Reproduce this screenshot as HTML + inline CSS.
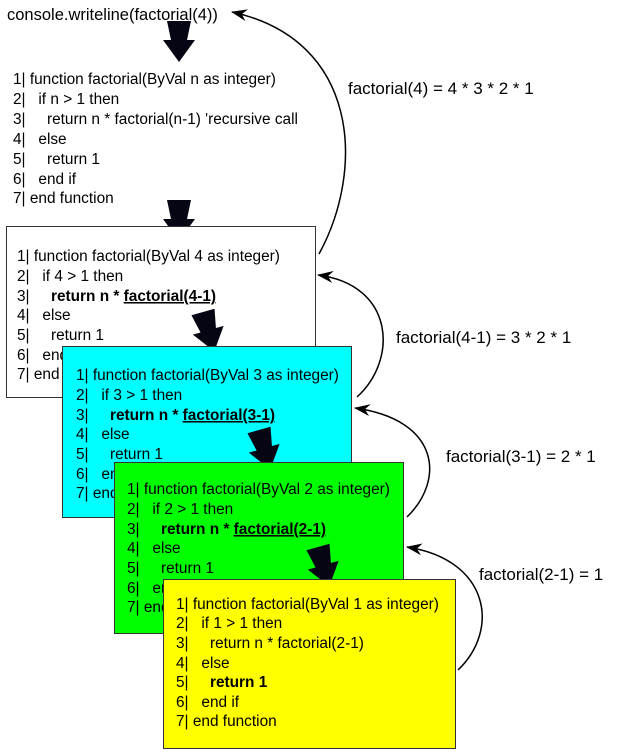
<!DOCTYPE html>
<html><head><meta charset="utf-8"><style>
html,body{margin:0;padding:0;background:#fff;}
svg{display:block;font-family:"Liberation Sans",sans-serif;font-size:15.4px;}
</style></head><body>
<svg width="640" height="753" viewBox="0 0 640 753" xmlns="http://www.w3.org/2000/svg">
<defs>
<marker id="ah" markerWidth="16" markerHeight="12" refX="15" refY="6" orient="auto" markerUnits="userSpaceOnUse">
<path d="M0,0 L16,6 L0,12 L5,6 Z" fill="#000"/>
</marker>
<g id="big"><polygon points="-12,0 12,0 8,19 16,19 0,41 -16,19 -8,19" fill="#050514"/></g>
</defs>
<text x="7" y="20" font-size="16.5">console.writeline(factorial(4))</text>
<use href="#big" x="179" y="21"/>
<g font-size="15.4">
<text x="13" y="84" xml:space="preserve">1| function factorial(ByVal n as integer)</text>
<text x="13" y="104" xml:space="preserve">2|   if n &gt; 1 then</text>
<text x="13" y="124" xml:space="preserve">3|     return n * factorial(n-1) 'recursive call</text>
<text x="13" y="144" xml:space="preserve">4|   else</text>
<text x="13" y="164" xml:space="preserve">5|     return 1</text>
<text x="13" y="184" xml:space="preserve">6|   end if</text>
<text x="13" y="203" xml:space="preserve">7| end function</text>
</g>
<use href="#big" x="179" y="200"/>

<rect x="6.5" y="226.5" width="309" height="171" fill="#fff" stroke="#333"/>
<g font-size="15.4">
<text x="17" y="261" xml:space="preserve">1| function factorial(ByVal 4 as integer)</text>
<text x="17" y="281" xml:space="preserve">2|   if 4 &gt; 1 then</text>
<text x="17" y="301" xml:space="preserve">3|     <tspan font-weight="bold">return n * <tspan text-decoration="underline">factorial(4-1)</tspan></tspan></text>
<text x="17" y="320" xml:space="preserve">4|   else</text>
<text x="17" y="340" xml:space="preserve">5|     return 1</text>
<text x="17" y="360" xml:space="preserve">6|   end if</text>
<text x="17" y="379" xml:space="preserve">7| end function</text>
</g>
<use href="#big" transform="translate(203,312) rotate(-16)"/>

<rect x="62.5" y="346.5" width="289" height="171" fill="#00ffff" stroke="#333"/>
<g font-size="15.4">
<text x="76" y="380" xml:space="preserve">1| function factorial(ByVal 3 as integer)</text>
<text x="76" y="400" xml:space="preserve">2|   if 3 &gt; 1 then</text>
<text x="76" y="420" xml:space="preserve">3|     <tspan font-weight="bold">return n * <tspan text-decoration="underline">factorial(3-1)</tspan></tspan></text>
<text x="76" y="439" xml:space="preserve">4|   else</text>
<text x="76" y="459" xml:space="preserve">5|     return 1</text>
<text x="76" y="479" xml:space="preserve">6|   end if</text>
<text x="76" y="498" xml:space="preserve">7| end function</text>
</g>
<use href="#big" transform="translate(259,430) rotate(-16)"/>

<rect x="114.5" y="462.5" width="289" height="171" fill="#00ff00" stroke="#333"/>
<g font-size="15.4">
<text x="127" y="494" xml:space="preserve">1| function factorial(ByVal 2 as integer)</text>
<text x="127" y="514" xml:space="preserve">2|   if 2 &gt; 1 then</text>
<text x="127" y="534" xml:space="preserve">3|     <tspan font-weight="bold">return n * <tspan text-decoration="underline">factorial(2-1)</tspan></tspan></text>
<text x="127" y="553" xml:space="preserve">4|   else</text>
<text x="127" y="573" xml:space="preserve">5|     return 1</text>
<text x="127" y="593" xml:space="preserve">6|   end if</text>
<text x="127" y="612" xml:space="preserve">7| end function</text>
</g>
<use href="#big" transform="translate(318,547) rotate(-16)"/>

<rect x="163.5" y="579.5" width="292" height="169" fill="#ffff00" stroke="#333"/>
<g font-size="15.4">
<text x="176" y="609" xml:space="preserve">1| function factorial(ByVal 1 as integer)</text>
<text x="176" y="628" xml:space="preserve">2|   if 1 &gt; 1 then</text>
<text x="176" y="648" xml:space="preserve">3|     return n * factorial(2-1)</text>
<text x="176" y="668" xml:space="preserve">4|   else</text>
<text x="176" y="687" xml:space="preserve">5|     <tspan font-weight="bold">return 1</tspan></text>
<text x="176" y="707" xml:space="preserve">6|   end if</text>
<text x="176" y="726" xml:space="preserve">7| end function</text>
</g>

<g fill="none" stroke="#000" stroke-width="1.5">
<path d="M319,254 C365,170 360,40 232,12" marker-end="url(#ah)"/>
<path d="M357,397 C398,360 395,285 318,275" marker-end="url(#ah)"/>
<path d="M407,517 C445,480 440,420 355,408" marker-end="url(#ah)"/>
<path d="M458,670 C500,630 490,560 407,547" marker-end="url(#ah)"/>
</g>
<g font-size="17">
<text x="348" y="94">factorial(4) = 4 * 3 * 2 * 1</text>
<text x="396" y="343">factorial(4-1) = 3 * 2 * 1</text>
<text x="446" y="462">factorial(3-1) = 2 * 1</text>
<text x="479" y="580">factorial(2-1) = 1</text>
</g>
</svg>
</body></html>
